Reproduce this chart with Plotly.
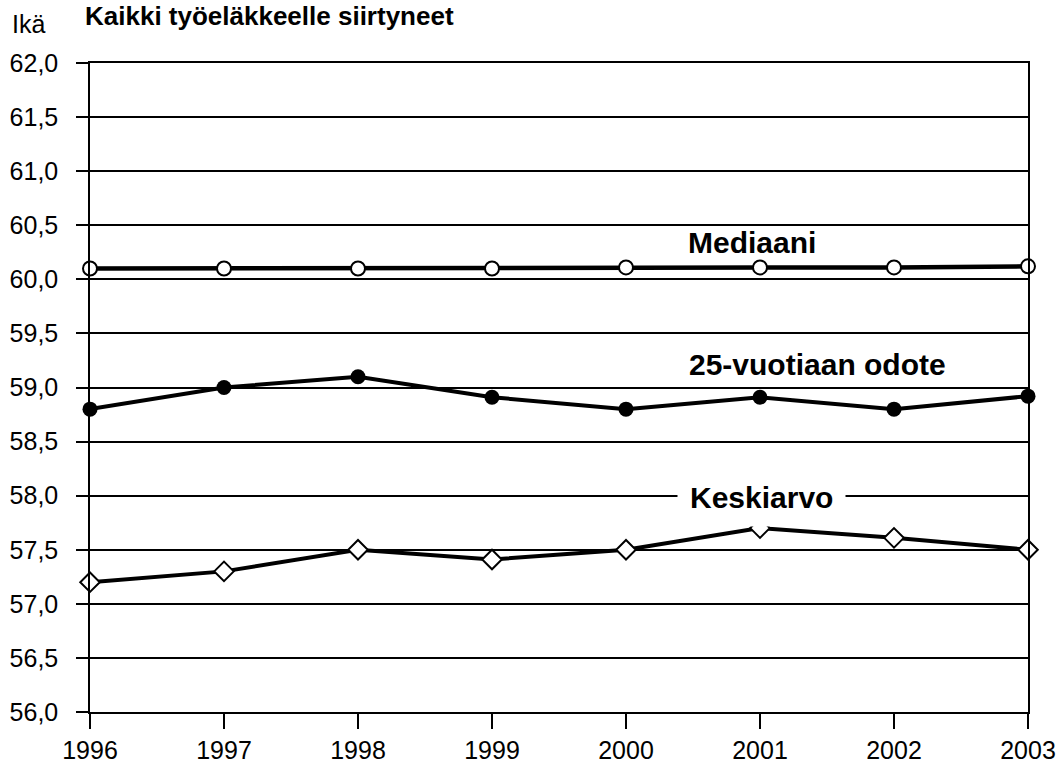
import plotly.graph_objects as go

# Keski-ikä työeläkkeelle siirtyessä
years = [1996, 1997, 1998, 1999, 2000, 2001, 2002, 2003]
mediaani = [60.1, 60.1, 60.1, 60.1, 60.11, 60.11, 60.11, 60.12]
odote_25 = [58.8, 59.0, 59.1, 58.91, 58.8, 58.91, 58.8, 58.92]
keskiarvo = [57.2, 57.3, 57.5, 57.41, 57.5, 57.7, 57.61, 57.5]

font = "Liberation Sans, Arial, sans-serif"

fig = go.Figure()

fig.add_scatter(x=years, y=mediaani, mode="lines+markers", cliponaxis=False,
                line=dict(color="black", width=4.5),
                marker=dict(symbol="circle", size=14, color="white",
                            line=dict(color="black", width=2)))
fig.add_scatter(x=years, y=odote_25, mode="lines+markers", cliponaxis=False,
                line=dict(color="black", width=4),
                marker=dict(symbol="circle", size=15, color="black"))
fig.add_scatter(x=years, y=keskiarvo, mode="lines+markers", cliponaxis=False,
                line=dict(color="black", width=4),
                marker=dict(symbol="diamond", size=15, color="white",
                            line=dict(color="black", width=2)))

lbl = dict(family=font, size=30, color="black")
fig.add_annotation(x=2000.94, y=60.34, text="<b>Mediaani</b>", showarrow=False, font=lbl)
fig.add_annotation(x=2001.43, y=59.21, text="<b>25-vuotiaan odote</b>", showarrow=False, font=lbl)
fig.add_annotation(x=2001.01, y=57.98, text="<b>Keskiarvo</b>", showarrow=False, font=lbl,
                   bgcolor="white", borderpad=12)

# otsikko ja y-akselin nimi
fig.add_annotation(xref="paper", yref="paper", x=-7 / 938, y=1 + 64 / 649,
                   xanchor="left", yanchor="top",
                   text="<b>Kaikki työeläkkeelle siirtyneet</b>", showarrow=False,
                   font=dict(family=font, size=26, color="black"))
fig.add_annotation(xref="paper", yref="paper", x=-80 / 938, y=1 + 39 / 649,
                   xanchor="left", yanchor="middle", text="Ikä", showarrow=False,
                   font=dict(family=font, size=25, color="black"))

fig.update_layout(
    width=1058, height=767,
    margin=dict(l=90, r=30, t=63, b=55),
    paper_bgcolor="white", plot_bgcolor="white",
    showlegend=False, separators=", ",
    font=dict(family=font, size=25, color="black"),
)
fig.update_xaxes(range=[1996, 2003], tickvals=years, showgrid=False, automargin=False,
                 showline=True, linecolor="black", linewidth=1.5, mirror=True,
                 ticks="outside", ticklen=15, tickwidth=1.5, tickcolor="black",
                 zeroline=False)
fig.update_yaxes(range=[56, 62], dtick=0.5, tickformat=".1f", automargin=False,
                 showgrid=True, gridcolor="black", gridwidth=1.5,
                 showline=True, linecolor="black", linewidth=1.5, mirror=True,
                 ticks="outside", ticklen=12, tickwidth=1.5, tickcolor="black",
                 ticklabelstandoff=13, zeroline=False)

# sivun oletusreunus pois, jotta kuva alkaa vasemmasta yläkulmasta
fig.write_html("out.html", config={"displayModeBar": False},
               post_script="document.body.style.margin='0';")
